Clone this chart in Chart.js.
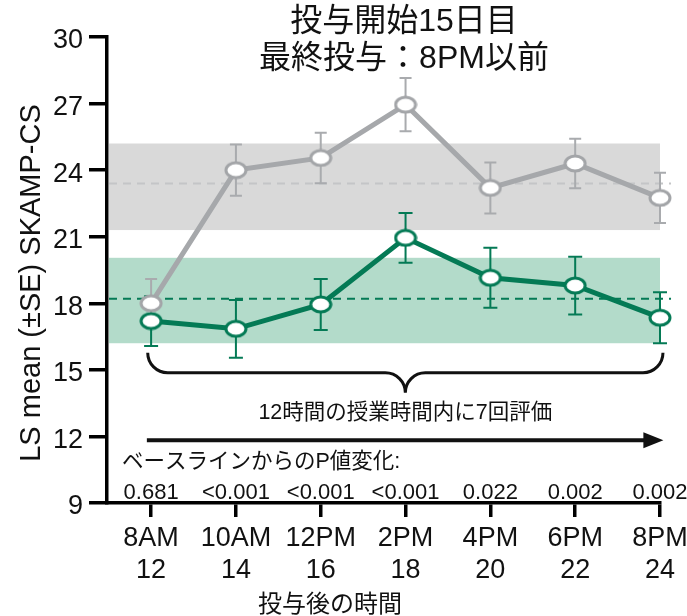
<!DOCTYPE html>
<html>
<head>
<meta charset="utf-8">
<script src="https://cdn.jsdelivr.net/npm/chart.js@4"></script>
<style>
  html, body { margin: 0; padding: 0; background: #fff; }
  #wrap { width: 687px; height: 616px; position: relative; }
</style>
</head>
<body>
<div id="wrap"><canvas id="c"></canvas></div>
<script>
// Time of day and hours after dosing for each assessment
const timeLabels = ['8AM', '10AM', '12PM', '2PM', '4PM', '6PM', '8PM'];
const hourLabels = ['12', '14', '16', '18', '20', '22', '24'];
// P value for change from baseline at each assessment
const pValues = ['0.681', '<0.001', '<0.001', '<0.001', '0.022', '0.002', '0.002'];

// Placebo (grey) LS means and standard errors
const placeboMean = [18.0, 24.0, 24.55, 26.95, 23.2, 24.3, 22.75];
const placeboSE   = [1.1, 1.15, 1.14, 1.2, 1.15, 1.12, 1.13];
// Active treatment (green) LS means and standard errors
const activeMean  = [17.2, 16.85, 17.95, 20.95, 19.15, 18.8, 17.35];
const activeSE    = [1.12, 1.3, 1.15, 1.12, 1.35, 1.3, 1.15];

// Average across the classroom day and its range
const placeboAvg  = 23.4;
const placeboBand = [21.3, 25.2];
const activeAvg   = 18.2;
const activeBand  = [16.2, 20.05];

// Y axis ticks
const yTicks = [9, 12, 15, 18, 21, 24, 27, 30];

const FONT = "'Liberation Sans', Arial, 'Noto Sans CJK JP', sans-serif";
const GRAY = '#a6a8ab';
const GRAY_ERR = '#a9abae';
const GREEN = '#047a55';
const INK = '#111';

// Open elliptical marker with white fill
function marker(color) {
  const w = 24, h = 19;
  const cv = document.createElement('canvas');
  cv.width = w; cv.height = h;
  const g = cv.getContext('2d');
  g.beginPath();
  g.ellipse(w / 2, h / 2, w / 2 - 2, h / 2 - 2, 0, 0, Math.PI * 2);
  g.fillStyle = '#fff';
  g.fill();
  g.lineWidth = 3;
  g.strokeStyle = color;
  g.stroke();
  return cv;
}

const toPoints = arr => arr.map((v, i) => ({ x: i, y: v }));

const decor = {
  id: 'decor',
  beforeDatasetsDraw(chart) {
    const { ctx, chartArea: a, scales: { x, y } } = chart;
    const last = timeLabels.length - 1;
    ctx.save();
    // range bands
    const bandRight = x.getPixelForValue(last);
    const band = (lo, hi, color) => {
      const t = y.getPixelForValue(hi), b = y.getPixelForValue(lo);
      ctx.fillStyle = color;
      ctx.fillRect(a.left + 2, t, bandRight - a.left - 2, b - t);
    };
    band(placeboBand[0], placeboBand[1], '#d9d9d9');
    band(activeBand[0], activeBand[1], '#b3dbca');

    // dashed averages
    const dashRight = x.getPixelForValue(last + 0.13);
    const dash = (v, color) => {
      const py = y.getPixelForValue(v);
      ctx.beginPath();
      ctx.setLineDash([8, 6]);
      ctx.lineWidth = 2;
      ctx.strokeStyle = color;
      ctx.moveTo(a.left + 2, py);
      ctx.lineTo(dashRight, py);
      ctx.stroke();
    };
    dash(placeboAvg, '#c4c5c7');
    dash(activeAvg, GREEN);
    ctx.setLineDash([]);

    // error bars
    const errs = (means, ses, color, cap) => {
      ctx.strokeStyle = color;
      ctx.lineWidth = 2;
      means.forEach((m, i) => {
        const px = x.getPixelForValue(i);
        const t = y.getPixelForValue(m + ses[i]);
        const b = y.getPixelForValue(m - ses[i]);
        ctx.beginPath();
        ctx.moveTo(px, t); ctx.lineTo(px, b);
        ctx.moveTo(px - cap, t); ctx.lineTo(px + cap, t);
        ctx.moveTo(px - cap, b); ctx.lineTo(px + cap, b);
        ctx.stroke();
      });
    };
    errs(placeboMean, placeboSE, GRAY_ERR, 6);
    errs(activeMean, activeSE, GREEN, 7);
    ctx.restore();
  },
  afterDraw(chart) {
    const { ctx, scales: { x, y } } = chart;
    const last = timeLabels.length - 1;
    ctx.save();
    ctx.fillStyle = INK;
    ctx.strokeStyle = INK;

    // curly brace spanning all assessments
    const L = x.getPixelForValue(-0.04), R = x.getPixelForValue(last + 0.035);
    const C = (L + R) / 2;
    const T = y.getPixelForValue(15.77);
    const r = 20;
    const H = T + r;
    ctx.lineWidth = 3;
    ctx.beginPath();
    ctx.moveTo(L, T);
    ctx.arc(L + r, T, r, Math.PI, Math.PI / 2, true);
    ctx.lineTo(C - r, H);
    ctx.arc(C - r, H + r, r, -Math.PI / 2, 0, false);
    ctx.moveTo(C, H + r);
    ctx.arc(C + r, H + r, r, Math.PI, Math.PI * 1.5, false);
    ctx.lineTo(R - r, H);
    ctx.arc(R - r, T, r, Math.PI / 2, 0, true);
    ctx.stroke();

    ctx.textAlign = 'center';
    ctx.textBaseline = 'middle';
    ctx.font = `21.5px ${FONT}`;
    ctx.fillText('12時間の授業時間内に7回評価', C, y.getPixelForValue(13.04));

    // arrow along the day
    const ay = y.getPixelForValue(11.83);
    const ax0 = x.getPixelForValue(-0.05), ax1 = x.getPixelForValue(last + 0.04);
    ctx.lineWidth = 4;
    ctx.beginPath();
    ctx.moveTo(ax0, ay); ctx.lineTo(ax1 - 16, ay);
    ctx.stroke();
    ctx.beginPath();
    ctx.moveTo(ax1, ay);
    ctx.lineTo(ax1 - 20, ay - 8);
    ctx.lineTo(ax1 - 20, ay + 8);
    ctx.closePath();
    ctx.fill();

    // p values
    ctx.textAlign = 'left';
    ctx.fillText('ベースラインからのP値変化:', 122, y.getPixelForValue(10.83));
    ctx.textAlign = 'center';
    ctx.font = `22px ${FONT}`;
    pValues.forEach((p, i) => ctx.fillText(p, x.getPixelForValue(i), y.getPixelForValue(9.47)));

    // heading
    ctx.font = `32px ${FONT}`;
    ctx.fillText('投与開始15日目', 404, 22);
    ctx.fillText('最終投与：8PM以前', 404, 59);

    // axis titles
    ctx.font = `24px ${FONT}`;
    ctx.fillText('投与後の時間', 330, 605);
    ctx.save();
    ctx.translate(32, 283);
    ctx.rotate(-Math.PI / 2);
    ctx.font = `29px ${FONT}`;
    ctx.fillText('LS mean (±SE) SKAMP-CS', 0, 0);
    ctx.restore();
    ctx.restore();
  }
};

new Chart(document.getElementById('c'), {
  type: 'line',
  data: {
    datasets: [
      {
        data: toPoints(placeboMean),
        borderColor: GRAY,
        borderWidth: 5,
        pointStyle: marker('#a3a5a8'),
        pointRadius: 10,
        tension: 0,
        clip: false
      },
      {
        data: toPoints(activeMean),
        borderColor: GREEN,
        borderWidth: 5,
        pointStyle: marker(GREEN),
        pointRadius: 10,
        tension: 0,
        clip: false
      }
    ]
  },
  options: {
    responsive: true,
    maintainAspectRatio: false,
    devicePixelRatio: 1,
    animation: false,
    events: [],
    layout: { padding: { left: 0, top: 37, right: 27, bottom: 0 } },
    plugins: { legend: { display: false }, tooltip: { enabled: false }, title: { display: false } },
    scales: {
      x: {
        type: 'linear',
        min: -0.52,
        max: timeLabels.length - 1,
        afterBuildTicks: s => { s.ticks = timeLabels.map((_, i) => ({ value: i })); },
        afterFit: s => { s.height = 113; s.paddingLeft = 0; s.paddingRight = 0; },
        border: { display: true, color: '#000', width: 3.5 },
        grid: { display: true, drawOnChartArea: false, drawTicks: true, tickLength: 14, lineWidth: 3.5, color: '#000' },
        ticks: {
          autoSkip: false,
          maxRotation: 0,
          padding: 5,
          color: INK,
          font: { family: FONT, size: 27, lineHeight: 1.2 },
          callback: v => [timeLabels[v], hourLabels[v]]
        }
      },
      y: {
        min: yTicks[0],
        max: yTicks[yTicks.length - 1],
        afterBuildTicks: s => { s.ticks = yTicks.map(v => ({ value: v })); },
        afterFit: s => { s.width = 107; s.paddingTop = 0; s.paddingBottom = 0; },
        border: { display: true, color: '#000', width: 3.5 },
        grid: { display: true, drawOnChartArea: false, drawTicks: true, tickLength: 18, lineWidth: 3.5, color: '#000' },
        ticks: {
          padding: 6,
          labelOffset: 4,
          color: INK,
          font: { family: FONT, size: 27 }
        }
      }
    }
  },
  plugins: [decor]
});
</script>
</body>
</html>
